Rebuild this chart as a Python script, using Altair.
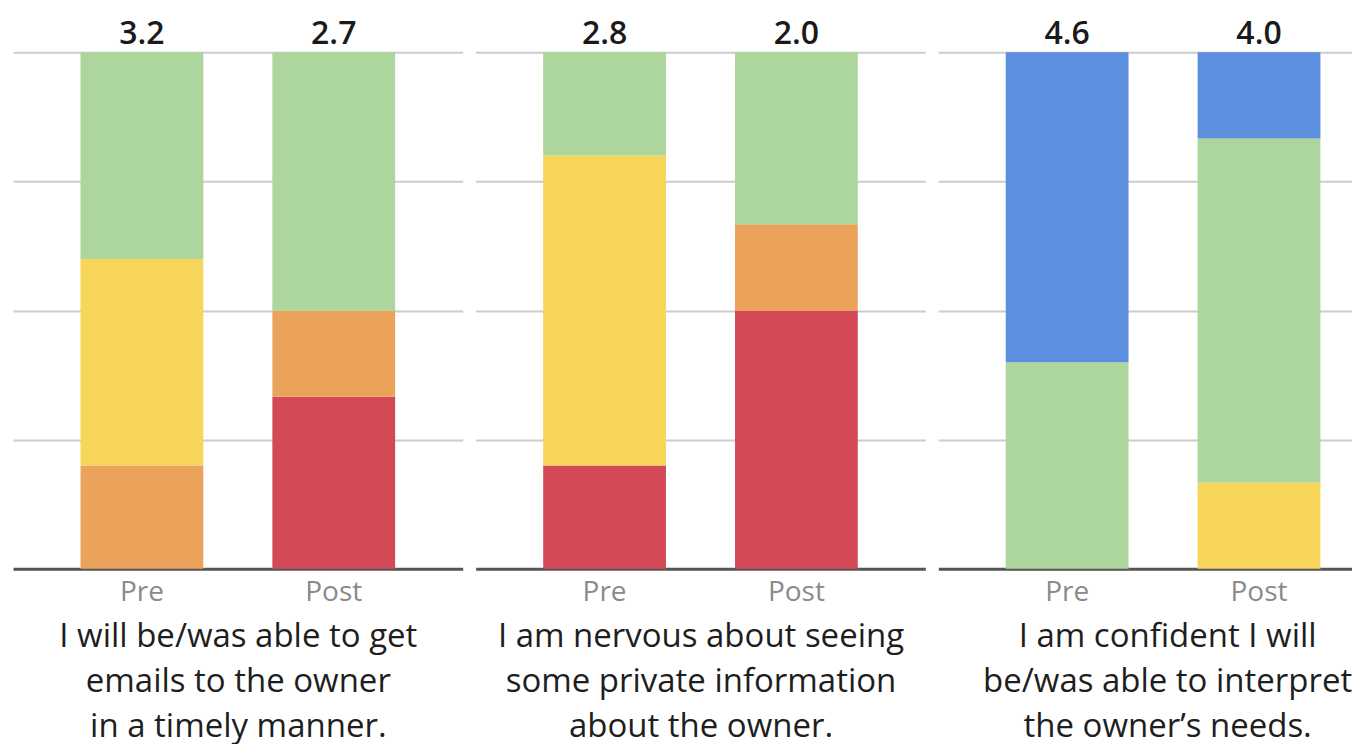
import altair as alt
import pandas as pd

# ---- data ----
periods = ["Pre", "Post"]
levels = [1, 2, 3, 4, 5]
level_colors = ["#d34a56", "#eba25b", "#f7d45a", "#acd69c", "#5c8fde"]

titles = [
    ["I will be/was able to get", "emails to the owner", "in a timely manner."],
    ["I am nervous about seeing", "some private information", "about the owner."],
    ["I am confident I will", "be/was able to interpret", "the owner\u2019s needs."],
]
# percent of responses per level 1..5
q1_pre = [0, 20, 40, 40, 0]
q1_post = [33.3, 16.7, 0, 50, 0]
q2_pre = [20, 0, 60, 20, 0]
q2_post = [50, 16.7, 0, 33.3, 0]
q3_pre = [0, 0, 0, 40, 60]
q3_post = [0, 0, 16.7, 66.6, 16.7]
means = [["3.2", "2.7"], ["2.8", "2.0"], ["4.6", "4.0"]]

shares = [[q1_pre, q1_post], [q2_pre, q2_post], [q3_pre, q3_post]]

FONT = "Open Sans"


def panel(i, width, align):
    rows = []
    for p, period in enumerate(periods):
        for lv, v in zip(levels, shares[i][p]):
            if v > 0:
                rows.append({"period": period, "level": lv, "share": v})
    df = pd.DataFrame(rows)
    lab = pd.DataFrame({"period": periods, "mean": means[i], "top": [100, 100]})

    xscale = alt.Scale(domain=periods, paddingInner=0.36,
                       paddingOuter=0.352 if align == 0.5 else 0.258, align=align)
    extra = {"titleX": 229} if align != 0.5 else {}
    xaxis = alt.Axis(
        title=titles[i],
        labelAngle=0,
        ticks=False,
        domainColor="#555555",
        domainWidth=3,
        labelColor="#8a8a8a",
        labelFontSize=28,
        labelFont=FONT,
        labelPadding=10,
        titleFont=FONT,
        titleFontSize=33,
        titleFontWeight="normal",
        titleColor="#1e1e1e",
        titleLineHeight=45,
        titlePadding=14,
        **extra,
    )
    yaxis = alt.Axis(
        title=None, labels=False, ticks=False, domain=False,
        values=[25, 50, 75, 100], gridColor="#cccccc", gridWidth=2,
    )
    yscale = alt.Scale(domain=[0, 100], nice=False)
    bars = alt.Chart(df).mark_bar().encode(
        x=alt.X("period:N", scale=xscale, axis=xaxis, sort=periods),
        y=alt.Y("share:Q", stack="zero", scale=yscale, axis=yaxis),
        color=alt.Color("level:O", scale=alt.Scale(domain=levels, range=level_colors), legend=None),
        order=alt.Order("level:O", sort="ascending"),
    )
    text = alt.Chart(lab).mark_text(
        baseline="alphabetic", dy=-8, fontSize=32, fontWeight=600, font=FONT, color="#1a1a1a"
    ).encode(
        x=alt.X("period:N", scale=xscale, sort=periods, axis=xaxis),
        y=alt.Y("top:Q", scale=yscale, axis=yaxis),
        text="mean:N",
    )
    return alt.layer(bars, text).properties(width=width, height=517)


chart = alt.hconcat(
    panel(0, 450, 0.5), panel(1, 450, 0.5), panel(2, 414, 0.681), spacing=13
).resolve_scale(x="independent", y="independent", color="shared").properties(
    padding={"left": 5, "top": 10, "right": 0, "bottom": 0},
    background="white",
).configure_view(stroke=None)

chart.save("out.html", embed_options={"renderer": "svg", "actions": False})
